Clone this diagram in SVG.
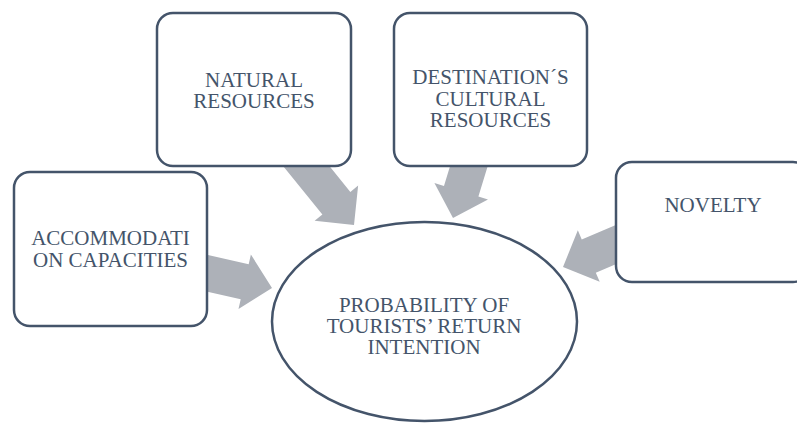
<svg xmlns="http://www.w3.org/2000/svg" xmlns:xlink="http://www.w3.org/1999/xlink" width="797" height="423" viewBox="0 0 797 423">
  <style>
    .box { fill: #ffffff; stroke: #44546a; stroke-width: 2.5; }
    .arrow { fill: #adb1b8; stroke: none; }
    .lbl { font-family: "Liberation Serif", "Times New Roman", serif; font-size: 21px; fill: #44546a; text-anchor: middle; }
  </style>
  <defs>
    <path id="blockArrow" d="M0,0 L-28,-28 L-28,-18 L-95,-18 L-95,18 L-28,18 L-28,28 Z"/>
  </defs>
  <g id="connectors">
    <use xlink:href="#blockArrow" href="#blockArrow" class="arrow" transform="translate(272,288) rotate(12.8)"/>
    <use xlink:href="#blockArrow" href="#blockArrow" class="arrow" transform="translate(354,225) rotate(51)"/>
    <use xlink:href="#blockArrow" href="#blockArrow" class="arrow" transform="translate(453,218) rotate(107)"/>
    <use xlink:href="#blockArrow" href="#blockArrow" class="arrow" transform="translate(563,267) rotate(157)"/>
  </g>
  <g id="accommodation">
    <rect class="box" x="14" y="172" width="193" height="154" rx="16" ry="16"/>
    <text class="lbl" x="110.5" y="245">ACCOMMODATI</text>
    <text class="lbl" x="110.5" y="267">ON CAPACITIES</text>
  </g>
  <g id="natural">
    <rect class="box" x="157" y="13" width="194" height="153" rx="16" ry="16"/>
    <text class="lbl" x="254" y="87">NATURAL</text>
    <text class="lbl" x="254" y="108">RESOURCES</text>
  </g>
  <g id="cultural">
    <rect class="box" x="394" y="13" width="193" height="153" rx="16" ry="16"/>
    <text class="lbl" x="490.5" y="84">DESTINATION´S</text>
    <text class="lbl" x="490.5" y="105.5">CULTURAL</text>
    <text class="lbl" x="490.5" y="127">RESOURCES</text>
  </g>
  <g id="novelty">
    <rect class="box" x="616" y="162" width="193" height="120" rx="16" ry="16"/>
    <text class="lbl" x="713" y="212">NOVELTY</text>
  </g>
  <g id="probability">
    <ellipse class="box" cx="424.5" cy="321.5" rx="152.5" ry="99.5"/>
    <text class="lbl" x="424" y="312">PROBABILITY OF</text>
    <text class="lbl" x="424" y="333">TOURISTS’ RETURN</text>
    <text class="lbl" x="424" y="354">INTENTION</text>
  </g>
</svg>
